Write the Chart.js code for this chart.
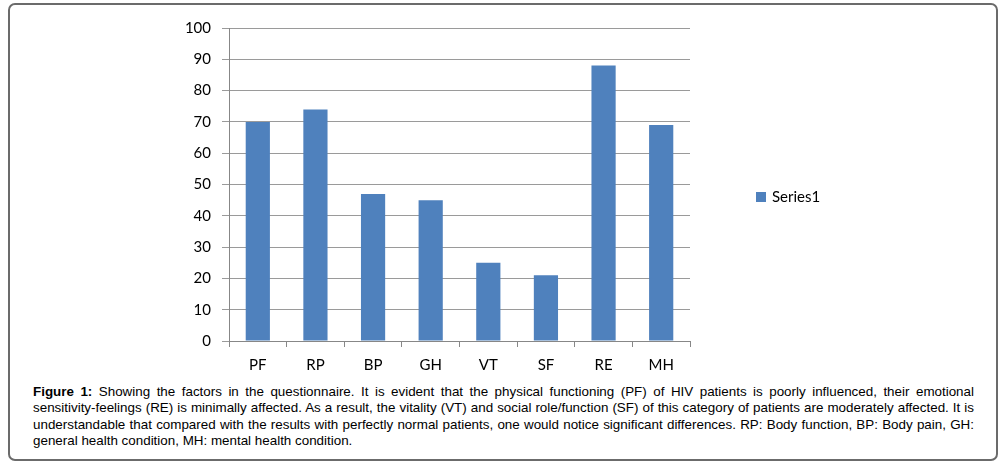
<!DOCTYPE html>
<html>
<head>
<meta charset="utf-8">
<script src="https://cdn.jsdelivr.net/npm/chart.js@4/dist/chart.umd.min.js"></script>
<style>
  html,body{margin:0;padding:0;background:#fff;}
  .frame{position:absolute;left:8px;top:3px;width:986px;height:454px;border:2px solid #6b6b6b;border-radius:7px;box-sizing:content-box;}
  .plot{position:absolute;left:0;top:0;width:1002px;height:380px;}
  .caption{position:absolute;left:33px;top:384px;width:941px;font-family:"Liberation Sans",Arial,sans-serif;font-size:13.4px;line-height:16.3px;text-align:justify;color:#000;}
</style>
</head>
<body>
<div class="frame"></div>
<div class="plot"><canvas id="chart"></canvas></div>
<div class="caption"><b>Figure 1:</b> Showing the factors in the questionnaire. It is evident that the physical functioning (PF) of HIV patients is poorly influenced, their emotional sensitivity-feelings (RE) is minimally affected. As a result, the vitality (VT) and social role/function (SF) of this category of patients are moderately affected. It is understandable that compared with the results with perfectly normal patients, one would notice significant differences. RP: Body function, BP: Body pain, GH: general health condition, MH: mental health condition.</div>
<script>
const categories = ["PF","RP","BP","GH","VT","SF","RE","MH"];
const series1 = [70,74,47,45,25,21,88,69];
const yTicks = [0,10,20,30,40,50,60,70,80,90,100];

// legend square + label drawn to the right of the plot
const sideLegend = {
  id:"sideLegend",
  afterDraw(chart){
    const ctx = chart.ctx;
    const ds = chart.data.datasets[0];
    ctx.save();
    ctx.fillStyle = ds.backgroundColor;
    ctx.fillRect(756,192,10,10);
    ctx.fillStyle = "#000";
    ctx.font = "15px Lato, sans-serif";
    ctx.textBaseline = "middle";
    ctx.fillText(ds.label,772,197);
    ctx.restore();
  }
};

new Chart(document.getElementById("chart"),{
  type:"bar",
  data:{
    labels:categories,
    datasets:[{
      label:"Series1",
      data:series1,
      backgroundColor:"#4F81BD",
      categoryPercentage:1,
      barPercentage:0.42
    }]
  },
  options:{
    responsive:true,
    maintainAspectRatio:false,
    animation:false,
    layout:{padding:{top:28,right:312,left:0,bottom:0}},
    plugins:{legend:{display:false},tooltip:{enabled:false}},
    scales:{
      x:{
        grid:{drawOnChartArea:false,offset:true,color:"#878787",tickLength:6},
        border:{color:"#878787"},
        ticks:{color:"#000",font:{family:"Lato",size:15},padding:9},
        afterFit(s){s.height=39}
      },
      y:{
        min:0,max:100,
        afterBuildTicks(s){s.ticks=yTicks.map(v=>({value:v}))},
        grid:{color:"#9a9a9a",tickLength:7},
        border:{color:"#878787"},
        ticks:{color:"#000",font:{family:"Lato",size:15},padding:11},
        afterFit(s){s.width=229}
      }
    }
  },
  plugins:[sideLegend]
});
</script>
</body>
</html>
